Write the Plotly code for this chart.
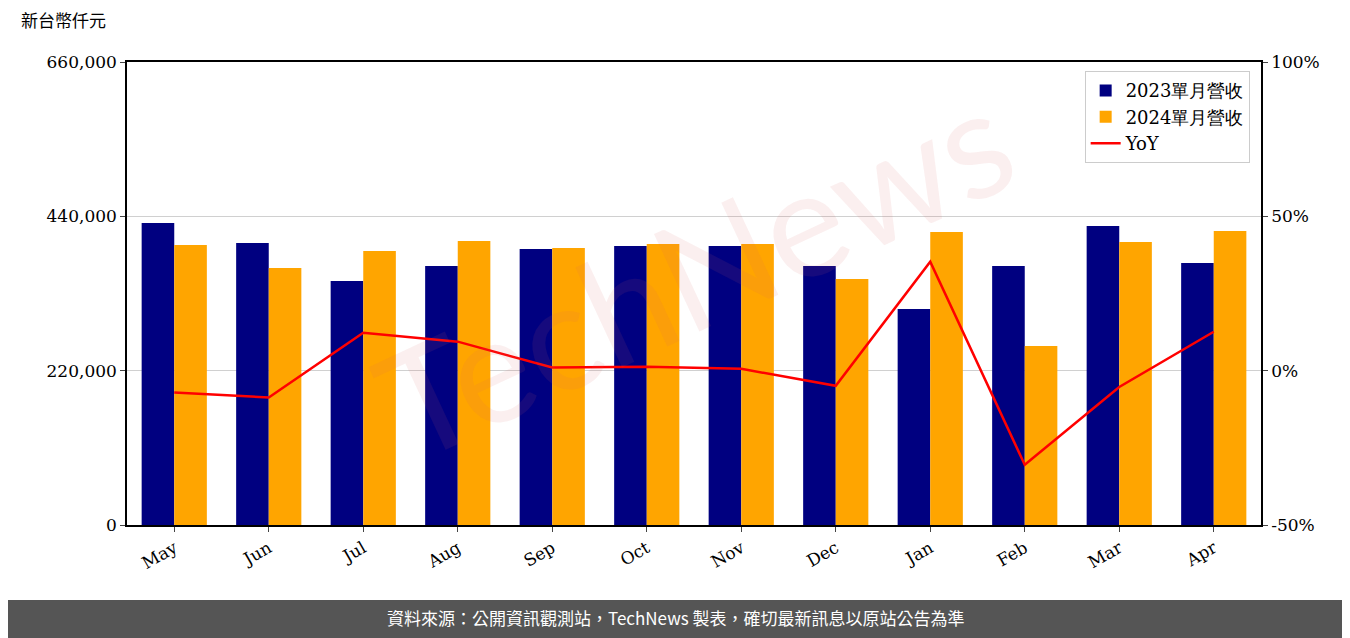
import plotly.graph_objects as go

months = ['May', 'Jun', 'Jul', 'Aug', 'Sep', 'Oct', 'Nov', 'Dec', 'Jan', 'Feb', 'Mar', 'Apr']
rev_2023 = [430500, 402000, 347800, 369200, 393400, 397700, 397700, 369200, 307900, 369200, 426200, 373500]
rev_2024 = [399100, 366300, 390600, 404800, 394900, 400600, 400600, 350700, 417700, 255200, 403400, 419100]
yoy = [-7.1, -8.7, 12.3, 9.4, 1.0, 1.3, 0.6, -4.9, 35.3, -30.5, -5.3, 12.6]

font = 'DejaVu Serif'
fig = go.Figure()
fig.add_trace(go.Bar(x=months, y=rev_2023, name='2023單月營收', marker=dict(color='#000080', line_width=0),
                     offsetgroup=0))
fig.add_trace(go.Bar(x=months, y=rev_2024, name='2024單月營收', marker=dict(color='#FFA500', line_width=0),
                     offsetgroup=1))
fig.add_trace(go.Scatter(x=months, y=yoy, name='YoY', yaxis='y2', mode='lines',
                         line=dict(color='red', width=2.5)))

fig.update_layout(
    width=1350, height=638, plot_bgcolor='white', paper_bgcolor='white',
    margin=dict(l=119, r=97, t=54, b=121),
    bargap=0.31, bargroupgap=0,
    font=dict(family=font, size=17, color='black'),
    xaxis=dict(showline=True, linecolor='black', linewidth=1.5, mirror=True, tickangle=-30,
               ticks='outside', tickfont=dict(size=17), automargin=False),
    yaxis=dict(range=[0, 660000], tickvals=[0, 220000, 440000, 660000], tickformat=',',
               showgrid=True, gridcolor='#d0d0d0', showline=True, linecolor='black', linewidth=1.5,
               ticks='outside', zeroline=False, automargin=False),
    yaxis2=dict(range=[-50, 100], tickvals=[-50, 0, 50, 100], ticktext=['-50%', '0%', '50%', '100%'],
                overlaying='y', side='right', showgrid=False, ticks='outside', zeroline=False,
                showline=True, linecolor='black', linewidth=1.5, automargin=False),
    legend=dict(x=0.99, y=0.98, xanchor='right', yanchor='top', bordercolor='#cccccc', borderwidth=1,
                bgcolor='rgba(255,255,255,0.8)', font=dict(size=18)),
    annotations=[
        dict(text='新台幣仟元', xref='paper', yref='paper', x=-0.095, y=1.06, xanchor='left',
             yanchor='bottom', showarrow=False, font=dict(size=17, family='Noto Sans CJK TC')),
        dict(text='TechNews', xref='paper', yref='paper', x=0.5, y=0.55, showarrow=False,
             textangle=-25, font=dict(size=150, family='Lato', color='rgba(220,100,100,0.1)')),
        dict(text='資料來源：公開資訊觀測站，TechNews 製表，確切最新訊息以原站公告為準',
             xref='paper', yref='paper', x=0.484, y=-0.2, yanchor='middle', showarrow=False,
             font=dict(size=17, color='white', family='Noto Sans CJK TC')),
    ],
    shapes=[dict(type='rect', xref='paper', yref='paper', x0=-0.3, x1=1.3, y0=-0.3, y1=-0.162,
                 fillcolor='#555555', line_width=0, layer='below')],
)
fig.write_html('out.html')
